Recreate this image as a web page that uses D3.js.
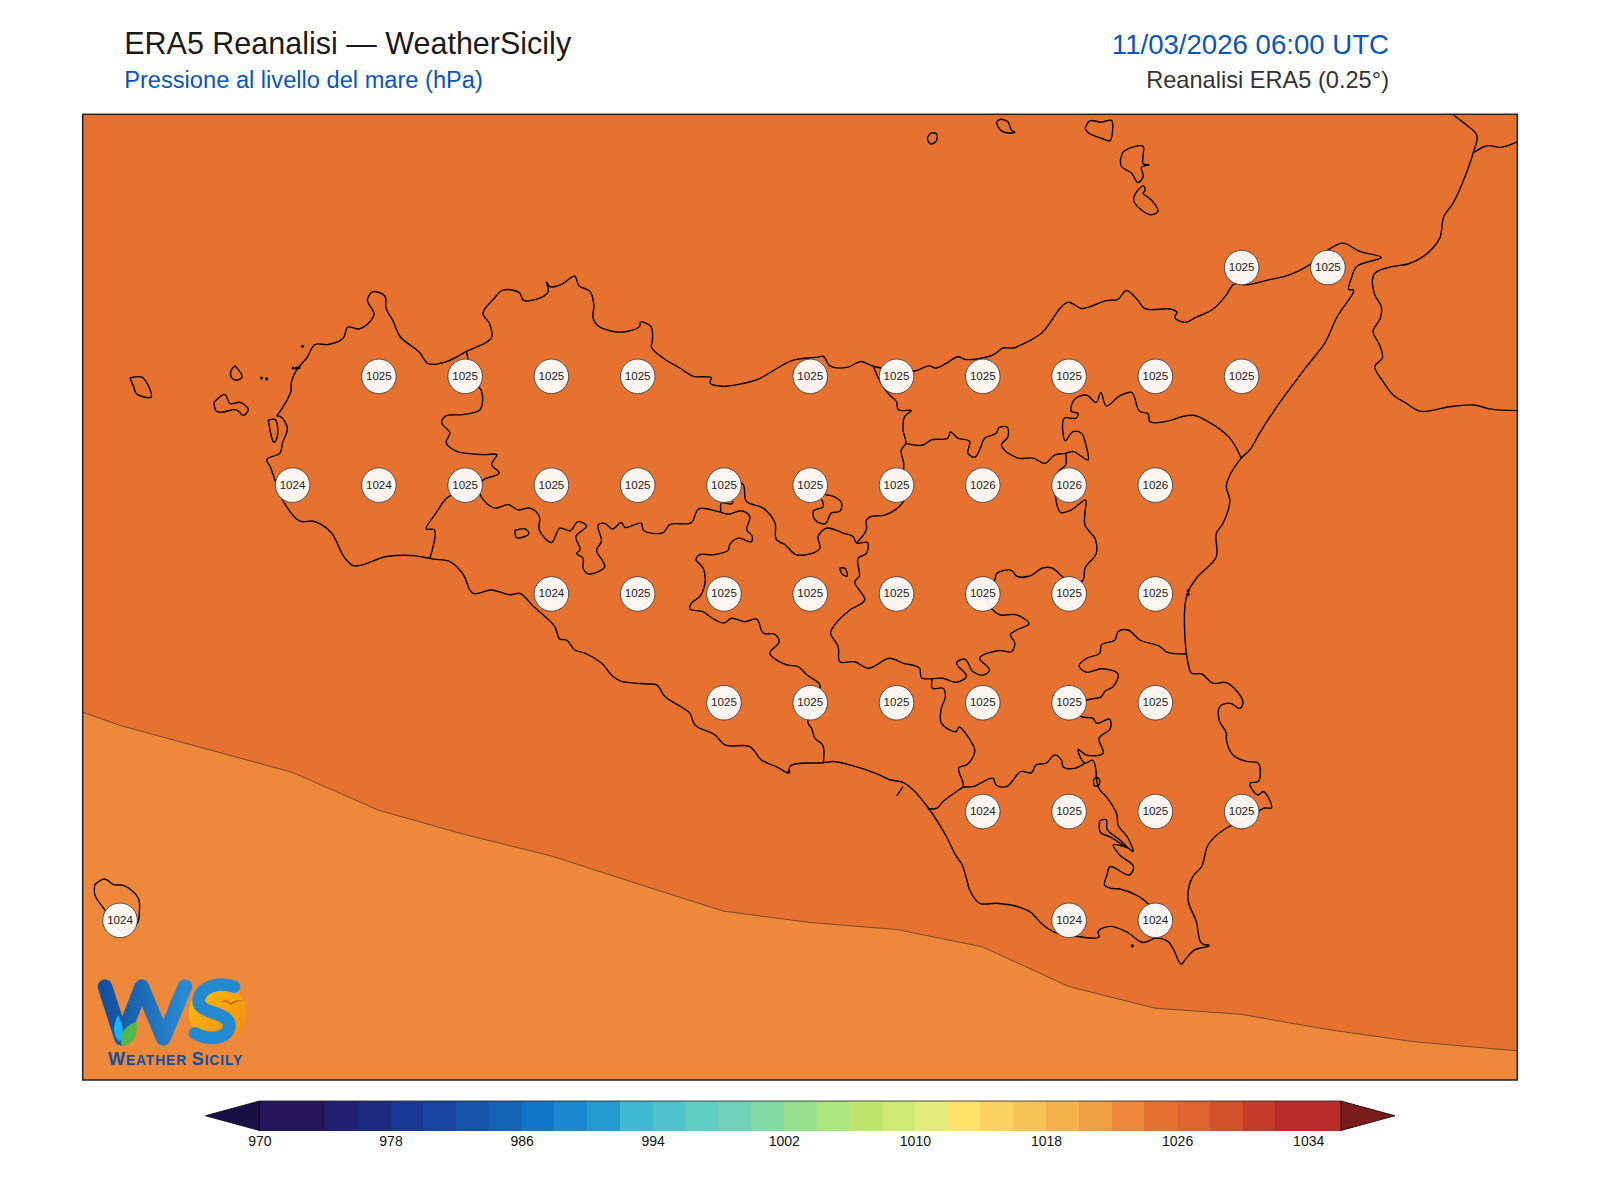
<!DOCTYPE html>
<html><head><meta charset="utf-8">
<script src="https://cdnjs.cloudflare.com/ajax/libs/d3/7.8.5/d3.min.js"></script>
<style>html,body{margin:0;padding:0;background:#fff}svg{display:block}text{font-family:"Liberation Sans",Arial,sans-serif}</style>
</head><body><div id="chart"></div>
<script>
const titleText="ERA5 Reanalisi — WeatherSicily", subtitleText="Pressione al livello del mare (hPa)", dateText="11/03/2026 06:00 UTC", sourceText="Reanalisi ERA5 (0.25°)";
const lonExtent=[11.893,16.05], latExtent=[36.382,38.601];
const levels=[970,972,974,976,978,980,982,984,986,988,990,992,994,996,998,1000,1002,1004,1006,1008,1010,1012,1014,1016,1018,1020,1022,1024,1026,1028,1030,1032,1034,1036];
const bandColors=["#25155b","#25155b","#211f72","#1c2a7e","#193796","#1744a0","#1554aa","#1563b6","#1075c8","#1a88cf","#239bd1","#3eb9d2","#4ec3cb","#5fcdc0","#6dd2b7","#83d9a4","#98e08f","#aae57e","#bde66d","#d0e972","#e2ec78","#fde36a","#fbd25f","#f6c357","#f4b24c","#f19f43","#ee883a","#e77230","#e0622c","#d3522c","#c53c2c","#bb2b2b","#bb2b2b"];
const underColor="#1a0f45", overColor="#7a1c1e";
const tickValues=[970,978,986,994,1002,1010,1018,1026,1034];
const isobar1024=[[11.85,37.24],[11.893,37.227],[12,37.197],[12.5,37.089],[12.75,37.002],[13,36.946],[13.25,36.897],[13.5,36.833],[13.75,36.770],[14,36.744],[14.25,36.728],[14.5,36.688],[14.75,36.597],[15,36.547],[15.25,36.533],[15.5,36.498],[15.75,36.470],[16.05,36.449],[16.1,36.445]];
const gridRows=[
 [38.25,[15.25,15.5],[1025,1025]],
 [38.0,[12.75,13,13.25,13.5,14,14.25,14.5,14.75,15,15.25],[1025,1025,1025,1025,1025,1025,1025,1025,1025,1025]],
 [37.75,[12.5,12.75,13,13.25,13.5,13.75,14,14.25,14.5,14.75,15],[1024,1024,1025,1025,1025,1025,1025,1025,1026,1026,1026]],
 [37.5,[13.25,13.5,13.75,14,14.25,14.5,14.75,15],[1024,1025,1025,1025,1025,1025,1025,1025]],
 [37.25,[13.75,14,14.25,14.5,14.75,15],[1025,1025,1025,1025,1025,1025]],
 [37.0,[14.5,14.75,15,15.25],[1024,1025,1025,1025]],
 [36.75,[12,14.75,15],[1024,1024,1024]]
];
const sicilyCoast=[[12.455,37.907],[12.496,37.964],[12.498,37.987],[12.513,38.014],[12.542,38.041],[12.566,38.072],[12.605,38.072],[12.648,38.087],[12.661,38.112],[12.695,38.108],[12.737,38.141],[12.718,38.175],[12.733,38.193],[12.769,38.183],[12.772,38.156],[12.793,38.125],[12.812,38.091],[12.870,38.053],[12.894,38.028],[12.948,38.033],[13.005,38.056],[13.078,38.089],[13.073,38.118],[13.053,38.144],[13.082,38.175],[13.111,38.197],[13.160,38.190],[13.169,38.174],[13.203,38.175],[13.242,38.194],[13.237,38.216],[13.247,38.205],[13.280,38.210],[13.319,38.229],[13.331,38.207],[13.363,38.194],[13.374,38.164],[13.372,38.133],[13.382,38.118],[13.430,38.102],[13.469,38.102],[13.507,38.114],[13.509,38.123],[13.539,38.114],[13.544,38.083],[13.541,38.066],[13.575,38.041],[13.623,38.018],[13.662,37.999],[13.715,37.995],[13.710,37.984],[13.744,37.976],[13.797,37.981],[13.846,37.991],[13.952,38.036],[14.024,38.043],[14.039,38.045],[14.058,38.023],[14.111,38.020],[14.147,38.033],[14.184,38.022],[14.304,38.011],[14.347,38.023],[14.362,38.018],[14.396,38.029],[14.429,38.044],[14.449,38.038],[14.531,38.048],[14.560,38.064],[14.589,38.064],[14.623,38.075],[14.671,38.098],[14.750,38.169],[14.787,38.155],[14.859,38.173],[14.893,38.176],[14.917,38.196],[14.946,38.178],[14.970,38.155],[15.048,38.153],[15.064,38.146],[15.057,38.135],[15.086,38.123],[15.120,38.135],[15.168,38.153],[15.207,38.186],[15.229,38.211],[15.265,38.209],[15.332,38.221],[15.390,38.232],[15.448,38.255],[15.501,38.289],[15.545,38.305],[15.593,38.286],[15.656,38.272],[15.584,38.251],[15.569,38.224],[15.562,38.198],[15.574,38.198],[15.526,38.133],[15.492,38.075],[15.443,38.025],[15.347,37.922],[15.303,37.868],[15.275,37.830],[15.250,37.811],[15.207,37.746],[15.217,37.715],[15.197,37.661],[15.178,37.638],[15.178,37.585],[15.120,37.535],[15.096,37.504],[15.088,37.478],[15.096,37.340],[15.106,37.317],[15.135,37.315],[15.168,37.294],[15.207,37.295],[15.255,37.248],[15.246,37.236],[15.217,37.248],[15.188,37.240],[15.186,37.209],[15.207,37.179],[15.207,37.164],[15.226,37.129],[15.265,37.114],[15.299,37.110],[15.299,37.068],[15.275,37.064],[15.299,37.037],[15.313,37.045],[15.337,37.007],[15.318,37.007],[15.265,36.980],[15.207,36.961],[15.154,36.922],[15.135,36.872],[15.110,36.850],[15.096,36.796],[15.120,36.746],[15.135,36.696],[15.154,36.690],[15.115,36.681],[15.091,36.662],[15.077,36.648],[15.052,36.685],[15.038,36.700],[15.004,36.708],[14.965,36.698],[14.917,36.723],[14.869,36.735],[14.835,36.723],[14.838,36.711],[14.782,36.711],[14.705,36.723],[14.676,36.738],[14.637,36.769],[14.589,36.783],[14.540,36.788],[14.492,36.788],[14.463,36.819],[14.455,36.842],[14.439,36.880],[14.425,36.895],[14.396,36.941],[14.347,37.003],[14.299,37.049],[14.270,37.066],[14.231,37.072],[14.202,37.083],[14.116,37.106],[14.067,37.114],[14.039,37.111],[13.942,37.102],[13.939,37.088],[13.908,37.100],[13.860,37.117],[13.826,37.148],[13.754,37.152],[13.725,37.175],[13.667,37.198],[13.652,37.225],[13.628,37.239],[13.580,37.263],[13.556,37.290],[13.527,37.292],[13.479,37.295],[13.454,37.298],[13.430,37.309],[13.396,37.340],[13.348,37.363],[13.319,37.370],[13.295,37.393],[13.276,37.395],[13.261,37.424],[13.227,37.451],[13.198,37.471],[13.160,37.500],[13.131,37.497],[13.078,37.508],[13.025,37.500],[13.015,37.508],[12.996,37.543],[12.957,37.573],[12.909,37.579],[12.851,37.587],[12.774,37.585],[12.677,37.564],[12.653,37.581],[12.614,37.639],[12.585,37.658],[12.561,37.666],[12.523,37.666],[12.474,37.712],[12.450,37.761],[12.436,37.792],[12.426,37.807],[12.465,37.823],[12.472,37.846],[12.486,37.880],[12.465,37.907],[12.455,37.907]];
const calabriaCoast=[[15.84,38.63],[15.864,38.601],[15.902,38.577],[15.933,38.552],[15.922,38.512],[15.893,38.447],[15.864,38.397],[15.837,38.366],[15.825,38.316],[15.777,38.274],[15.733,38.257],[15.680,38.250],[15.635,38.234],[15.637,38.186],[15.656,38.159],[15.653,38.132],[15.632,38.102],[15.651,38.071],[15.659,38.041],[15.637,38.022],[15.661,37.987],[15.690,37.956],[15.728,37.937],[15.767,37.919],[15.854,37.929],[15.926,37.933],[15.970,37.924],[16.07,37.92]];
const calabriaBranch=[[15.922,38.512],[15.955,38.527],[15.970,38.529],[16.0,38.525],[16.07,38.545]];
const stagnone=[[12.431,37.898],[12.450,37.900],[12.455,37.855],[12.448,37.847],[12.431,37.898]];
const marettimo=[[12.030,37.995],[12.064,37.997],[12.091,37.951],[12.049,37.959],[12.040,37.976],[12.030,37.995]];
const levanzo=[[12.334,38.023],[12.355,37.997],[12.339,37.990],[12.325,37.995],[12.322,38.010],[12.334,38.023]];
const favignana=[[12.273,37.939],[12.305,37.957],[12.320,37.936],[12.349,37.939],[12.373,37.922],[12.358,37.909],[12.339,37.922],[12.300,37.917],[12.281,37.918],[12.273,37.939]];
const alicudi=[[14.340,38.546],[14.352,38.558],[14.368,38.555],[14.365,38.538],[14.349,38.533],[14.340,38.546]];
const filicudi=[[14.540,38.581],[14.550,38.589],[14.574,38.584],[14.584,38.565],[14.594,38.560],[14.584,38.558],[14.555,38.563],[14.540,38.581]];
const salina=[[14.798,38.569],[14.811,38.586],[14.845,38.583],[14.874,38.587],[14.877,38.561],[14.869,38.540],[14.845,38.546],[14.806,38.559],[14.798,38.569]];
const lipari=[[14.908,38.515],[14.932,38.525],[14.966,38.527],[14.966,38.508],[14.966,38.487],[14.983,38.485],[14.961,38.479],[14.966,38.458],[14.951,38.444],[14.932,38.466],[14.903,38.481],[14.900,38.496],[14.908,38.515]];
const vulcano=[[14.956,38.431],[14.966,38.437],[14.972,38.427],[14.966,38.420],[14.990,38.404],[15.009,38.378],[14.990,38.370],[14.961,38.381],[14.938,38.404],[14.946,38.422],[14.956,38.431]];
const pantelleria=[[11.928,36.831],[11.957,36.844],[11.982,36.831],[12.011,36.829],[12.054,36.800],[12.057,36.765],[12.051,36.742],[12.001,36.727],[11.957,36.773],[11.928,36.808],[11.928,36.831]];
const tinyMarks=[[12.530,38.068],[12.411,37.995],[12.426,37.993],[12.503,38.018],[12.512,38.018],[12.520,38.019],[15.096,37.498],[15.096,37.506],[14.934,36.690],[13.939,37.090],[15.154,36.691]];
const trapaniLine=[[13.005,38.056],[13.030,37.985],[13.049,37.964],[13.044,37.922],[12.996,37.911],[12.943,37.907],[12.933,37.892],[12.957,37.869],[12.946,37.847],[12.972,37.828],[13.059,37.819],[13.093,37.819],[13.078,37.796],[13.100,37.777],[13.054,37.761],[13.035,37.745],[12.952,37.722],[12.917,37.685],[12.889,37.648],[12.911,37.647],[12.899,37.581]];
const palermoSouth=[[13.035,37.745],[13.054,37.715],[13.087,37.696],[13.126,37.704],[13.155,37.692],[13.189,37.696],[13.216,37.677],[13.216,37.646],[13.252,37.617],[13.276,37.650],[13.305,37.644],[13.329,37.665],[13.353,37.655],[13.322,37.631],[13.334,37.600],[13.324,37.592],[13.343,37.581],[13.343,37.558],[13.358,37.545],[13.406,37.562],[13.401,37.573],[13.382,37.600],[13.396,37.619],[13.387,37.658],[13.406,37.661],[13.428,37.648],[13.454,37.663],[13.464,37.652],[13.512,37.661],[13.517,37.646],[13.575,37.640],[13.594,37.658],[13.657,37.663],[13.677,37.694],[13.735,37.688],[13.764,37.682],[13.802,37.690],[13.826,37.677],[13.817,37.646],[13.833,37.631],[13.831,37.619],[13.793,37.627],[13.768,37.612],[13.764,37.600],[13.720,37.589],[13.681,37.589],[13.670,37.579],[13.691,37.558],[13.696,37.523],[13.681,37.493],[13.657,37.478],[13.652,37.465],[13.691,37.458],[13.710,37.447],[13.751,37.432],[13.773,37.443],[13.812,37.435],[13.846,37.441],[13.865,37.409],[13.899,37.406],[13.911,37.389],[13.884,37.363],[13.933,37.336],[13.966,37.332],[13.991,37.313],[14.029,37.290],[14.020,37.255],[13.995,37.215],[13.995,37.202],[14.005,37.190],[14.015,37.167],[14.037,37.152],[14.039,37.111]];
const ganziStub=[[13.742,37.688],[13.744,37.708],[13.773,37.706],[13.778,37.712]];
const ficuzza=[[13.145,37.645],[13.177,37.648],[13.186,37.638],[13.150,37.628],[13.145,37.645]];
const madonieEnclave=[[14.044,37.727],[14.068,37.723],[14.092,37.708],[14.087,37.689],[14.063,37.685],[14.044,37.660],[14.014,37.670],[14.010,37.689],[14.039,37.700],[14.034,37.716]];
const palermoEast=[[13.790,37.760],[13.807,37.750],[13.816,37.712],[13.865,37.696],[13.899,37.662],[13.903,37.624],[13.928,37.612],[13.961,37.589],[14.029,37.604],[14.024,37.631],[14.048,37.650],[14.096,37.639],[14.125,37.631],[14.135,37.616],[14.167,37.617],[14.164,37.592],[14.140,37.581],[14.143,37.539],[14.130,37.527],[14.159,37.485],[14.116,37.462],[14.072,37.428],[14.060,37.410],[14.082,37.378],[14.087,37.343],[14.130,37.343],[14.169,37.328],[14.231,37.351],[14.270,37.340],[14.318,37.328],[14.323,37.307],[14.386,37.305],[14.425,37.296],[14.454,37.309],[14.425,37.341],[14.449,37.349],[14.473,37.320],[14.505,37.313],[14.521,37.324],[14.492,37.351],[14.550,37.369],[14.584,37.366],[14.594,37.386],[14.581,37.405],[14.599,37.416],[14.635,37.430],[14.599,37.451],[14.550,37.451],[14.526,37.466],[14.510,37.500],[14.536,37.531],[14.541,37.545],[14.584,37.553],[14.599,37.540],[14.637,37.540],[14.676,37.559],[14.700,37.559],[14.734,37.537],[14.760,37.520],[14.792,37.531],[14.797,37.558],[14.830,37.592],[14.828,37.623],[14.797,37.658],[14.797,37.684],[14.799,37.715],[14.758,37.692],[14.727,37.686],[14.714,37.711],[14.720,37.780],[14.741,37.795],[14.741,37.822]];
const messinaLine=[[14.184,38.022],[14.205,37.985],[14.231,37.956],[14.251,37.941],[14.256,37.922],[14.294,37.920],[14.275,37.907],[14.270,37.876],[14.278,37.845],[14.265,37.830],[14.272,37.799],[14.272,37.784],[14.280,37.745],[14.270,37.709],[14.217,37.680],[14.179,37.677],[14.164,37.669],[14.164,37.647],[14.135,37.616]];
const messinaEast=[[14.278,37.845],[14.328,37.841],[14.352,37.853],[14.400,37.857],[14.407,37.871],[14.429,37.857],[14.463,37.849],[14.458,37.822],[14.478,37.813],[14.492,37.830],[14.507,37.857],[14.540,37.868],[14.548,37.881],[14.572,37.882],[14.574,37.860],[14.555,37.841],[14.603,37.811],[14.647,37.811],[14.682,37.799],[14.709,37.818],[14.741,37.822],[14.763,37.826],[14.806,37.807],[14.801,37.838],[14.787,37.868],[14.763,37.872],[14.741,37.851],[14.738,37.903],[14.772,37.903],[14.777,37.914],[14.758,37.918],[14.766,37.945],[14.801,37.956],[14.830,37.939],[14.843,37.962],[14.859,37.931],[14.898,37.954],[14.932,37.962],[14.956,37.918],[14.980,37.913],[14.985,37.895],[15.043,37.897],[15.077,37.906],[15.115,37.909],[15.149,37.897],[15.217,37.857],[15.250,37.811]];
const cataniaSouth=[[15.091,37.361],[15.033,37.366],[15.015,37.378],[14.956,37.393],[14.922,37.416],[14.893,37.412],[14.884,37.393],[14.845,37.382],[14.840,37.363],[14.802,37.351],[14.780,37.334],[14.801,37.319],[14.845,37.327],[14.893,37.315],[14.879,37.286],[14.855,37.275],[14.845,37.263],[14.803,37.255],[14.770,37.235],[14.787,37.217],[14.821,37.213],[14.830,37.202],[14.869,37.211],[14.871,37.190],[14.838,37.167],[14.850,37.133],[14.801,37.129],[14.777,37.142],[14.797,37.110],[14.819,37.117],[14.830,37.087],[14.830,37.078],[14.840,37.049],[14.859,37.033],[14.890,36.991],[14.893,36.968],[14.922,36.938],[14.936,36.907],[14.922,36.915],[14.879,36.922],[14.898,36.899],[14.938,36.872],[14.927,36.853],[14.869,36.872],[14.861,36.853],[14.854,36.830],[14.869,36.823],[14.898,36.821],[14.946,36.807],[14.980,36.787],[15.005,36.750],[15.004,36.708]];
const ragusaNorth=[[14.444,37.056],[14.473,37.056],[14.531,37.075],[14.540,37.060],[14.569,37.056],[14.613,37.091],[14.642,37.088],[14.656,37.106],[14.685,37.110],[14.710,37.129],[14.729,37.117],[14.734,37.102],[14.767,37.098],[14.797,37.110]];
const caltanissettaEast=[[14.355,37.305],[14.355,37.282],[14.386,37.282],[14.393,37.263],[14.381,37.236],[14.381,37.202],[14.425,37.183],[14.432,37.193],[14.458,37.171],[14.478,37.137],[14.454,37.106],[14.432,37.100],[14.444,37.056],[14.425,37.045],[14.386,37.022],[14.367,37.006],[14.342,37.006]];
const gelaTick=[[14.270,37.056],[14.252,37.035]];
const loopNear=[[14.822,37.070],[14.830,37.078],[14.840,37.071],[14.836,37.059],[14.825,37.058],[14.822,37.070]];
const biviere=[[14.840,36.978],[14.859,36.980],[14.861,36.958],[14.898,36.934],[14.922,36.915],[14.869,36.941],[14.842,36.951],[14.840,36.978]];
const pergusa=[[14.086,37.558],[14.101,37.558],[14.108,37.540],[14.096,37.543],[14.086,37.558]];
const outlines=[sicilyCoast,calabriaCoast,calabriaBranch,stagnone,marettimo,levanzo,favignana,alicudi,filicudi,salina,lipari,vulcano,pantelleria,trapaniLine,palermoSouth,ganziStub,ficuzza,madonieEnclave,palermoEast,messinaLine,messinaEast,cataniaSouth,ragusaNorth,caltanissettaEast,gelaTick,loopNear,biviere,pergusa];

const W=1600,H=1200;
const frame={l:82.7,r:1517.3,t:114.3,b:1080};
const svg=d3.select("#chart").append("svg").attr("width",W).attr("height",H);
const x=d3.scaleLinear().domain(lonExtent).range([frame.l,frame.r]);
const y=d3.scaleLinear().domain(latExtent).range([frame.b,frame.t]);
const colorOf=d3.scaleThreshold().domain(levels.slice(1,-1)).range(bandColors);
svg.append("defs").append("clipPath").attr("id","mapClip").append("rect").attr("x",frame.l).attr("y",frame.t).attr("width",frame.r-frame.l).attr("height",frame.b-frame.t);
const map=svg.append("g").attr("clip-path","url(#mapClip)");
map.append("rect").attr("x",frame.l).attr("y",frame.t).attr("width",frame.r-frame.l).attr("height",frame.b-frame.t).attr("fill",colorOf(1025));
map.append("path").datum(isobar1024).attr("fill",colorOf(1023)).attr("d",d3.area().x(d=>x(d[0])).y0(frame.b+5).y1(d=>y(d[1])));
const line=d3.line().x(d=>x(d[0])).y(d=>y(d[1]));
const coastLine=d3.line().x(d=>x(d[0])).y(d=>y(d[1])).curve(d3.curveCatmullRom.alpha(0.7));
map.append("path").datum(isobar1024).attr("fill","none").attr("stroke","#4a3020").attr("stroke-width",0.7).attr("d",line);
map.selectAll("path.coast").data(outlines).join("path").attr("class","coast").attr("fill","none").attr("stroke","#000").attr("stroke-width",1.4).attr("stroke-linejoin","round").attr("d",coastLine);
map.selectAll("circle.tiny").data(tinyMarks).join("circle").attr("class","tiny").attr("cx",d=>x(d[0])).attr("cy",d=>y(d[1])).attr("r",1.6).attr("fill","#000");
const stations=gridRows.flatMap(([lat,lons,vals])=>lons.map((lon,i)=>({lon,lat,v:vals[i]})));
const st=svg.append("g");
st.selectAll("circle").data(stations).join("circle").attr("cx",d=>x(d.lon)+0.4).attr("cy",d=>y(d.lat)+0.5).attr("r",17.3).attr("fill","#fff").attr("fill-opacity",0.93).attr("stroke","#333").attr("stroke-width",0.8);
st.selectAll("text").data(stations).join("text").attr("x",d=>x(d.lon)+0.4).attr("y",d=>y(d.lat)+3.9).attr("text-anchor","middle").attr("font-size",11.6).attr("fill","#222").text(d=>d.v);
svg.append("rect").attr("x",frame.l).attr("y",frame.t).attr("width",frame.r-frame.l).attr("height",frame.b-frame.t).attr("fill","none").attr("stroke","#222").attr("stroke-width",1.5);

// titles
svg.append("text").attr("x",124.2).attr("y",54).attr("font-size",30.5).attr("fill","#1a1a1a").text(titleText);
svg.append("text").attr("x",124.2).attr("y",88).attr("font-size",23.65).attr("fill","#0b55b8").text(subtitleText);
svg.append("text").attr("x",1389).attr("y",54).attr("text-anchor","end").attr("font-size",27.6).attr("fill","#0b55b8").text(dateText);
svg.append("text").attr("x",1389).attr("y",88).attr("text-anchor","end").attr("font-size",23.6).attr("fill","#333").text(sourceText);

// colorbar
const cb={t:1101,b:1130.5};
const cx=d3.scaleLinear().domain([970,1034]).range([259.4,1308.2]);
const bands=d3.range(bandColors.length).map(i=>({a:levels[i],b:levels[i+1],c:bandColors[i]}));
svg.append("g").attr("shape-rendering","crispEdges").selectAll("rect").data(bands).join("rect").attr("x",d=>cx(d.a)).attr("y",cb.t).attr("width",d=>cx(d.b)-cx(d.a)+0.6).attr("height",cb.b-cb.t).attr("fill",d=>d.c);
const xMin=cx(970),xMax=cx(1036),mid=(cb.t+cb.b)/2;
svg.append("path").attr("d",`M${xMin},${cb.t}L${xMin-54},${mid}L${xMin},${cb.b}Z`).attr("fill",underColor).attr("stroke","#000").attr("stroke-width",0.8);
svg.append("path").attr("d",`M${xMax},${cb.t}L${xMax+54},${mid}L${xMax},${cb.b}Z`).attr("fill",overColor).attr("stroke","#000").attr("stroke-width",0.8);
svg.append("path").attr("d",`M${xMin},${cb.t}H${xMax}`).attr("stroke","#222").attr("stroke-width",0.8).attr("fill","none");
const ax=svg.append("g").attr("transform",`translate(0,${cb.b})`).call(d3.axisBottom(cx).tickValues(tickValues).tickSize(0).tickPadding(6).tickFormat(d3.format("d")));
ax.select(".domain").remove();
ax.selectAll("text").attr("font-size",14).attr("fill","#111").attr("font-family","Liberation Sans");

// logo
const defs=svg.select("defs");
const g1=defs.append("linearGradient").attr("id","wGrad").attr("x1","0").attr("x2","1").attr("y1","0").attr("y2","0");
g1.append("stop").attr("offset","0").attr("stop-color","#12509f");g1.append("stop").attr("offset","1").attr("stop-color","#2a8bd2");
const g2=defs.append("linearGradient").attr("id","sunGrad").attr("x1","0").attr("x2","1").attr("y1","0").attr("y2","1");
g2.append("stop").attr("offset","0").attr("stop-color","#ffc00a");g2.append("stop").attr("offset","1").attr("stop-color","#ef8a12");
const logo=svg.append("g").attr("transform","translate(80,850) scale(0.3333)");
logo.append("circle").attr("cx",413).attr("cy",490).attr("r",87).attr("fill","url(#sunGrad)");
logo.append("path").attr("d","M462,410 C420,395 362,408 356,450 C352,495 452,482 448,530 C442,568 385,572 345,550").attr("fill","none").attr("stroke","#2389d0").attr("stroke-width",38).attr("stroke-linecap","round");
logo.append("path").attr("d","M75,410 L125,565 L185,410 L250,565 L315,410").attr("fill","none").attr("stroke","url(#wGrad)").attr("stroke-width",44).attr("stroke-linejoin","round").attr("stroke-linecap","round");
logo.append("path").attr("d","M115,495 C130,530 135,555 118,575 C100,560 95,530 115,495Z").attr("fill","#19b4f0");
logo.append("path").attr("d","M170,515 C175,565 150,590 125,585 C115,555 135,525 170,515Z").attr("fill","#4fb848");
logo.append("path").attr("d","M422,455 Q440,445 452,460 Q465,448 490,452 Q465,452 452,465 Q440,450 422,455Z").attr("fill","#c8501a");
const logoText=svg.append("text").attr("x",108).attr("y",1065).attr("font-weight","bold").attr("fill","#12509f").attr("letter-spacing",0.9);
[["W",18],["EATHER ",13.8],["S",18],["ICILY",13.8]].forEach(([t,s])=>logoText.append("tspan").attr("font-size",s).text(t));
</script></body></html>
